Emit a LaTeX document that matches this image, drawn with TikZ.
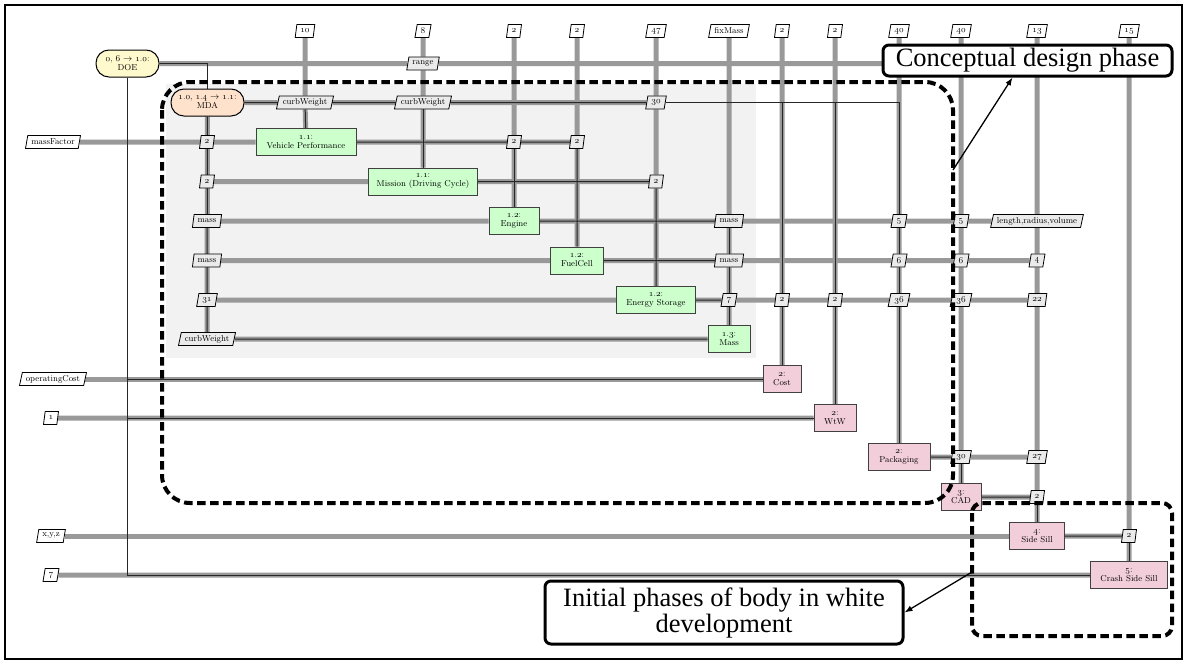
\documentclass[tikz,border=0pt]{standalone}
\usepackage{fontspec}
\usetikzlibrary{shapes.geometric,arrows.meta,calc}
\newfontfamily\annotfont{Liberation Serif}
% old-style figures taken from the math italic font
\newcommand\od[1]{{\fontencoding{OML}\fontfamily{lmm}\fontseries{m}\fontshape{it}\selectfont #1}}
\definecolor{dline}{gray}{0.6}
\definecolor{fgreen}{RGB}{204,255,204}
\definecolor{fpink}{RGB}{242,206,218}
\definecolor{fyellow}{RGB}{255,250,205}
\definecolor{fpeach}{RGB}{255,226,204}
\definecolor{dgray}{gray}{0.92}
\definecolor{panelgray}{gray}{0.95}
\pgfdeclarelayer{panel}
\pgfdeclarelayer{dlines}
\pgfdeclarelayer{plines}
\pgfsetlayers{panel,dlines,plines,main}
\tikzset{
  datalink/.style={draw=dline, line width=5pt},
  proclink/.style={draw=black!85, line width=1pt},
  xtext/.style={font=\fontsize{8.6}{9}\selectfont, align=center},
  funcbox/.style={xtext, rectangle, draw=black!75, line width=1pt, fill=fgreen,
    minimum height=27pt, inner xsep=3pt, inner ysep=2pt},
  anlbox/.style={funcbox, fill=fpink},
  drvbox/.style={xtext, rectangle, draw=black, line width=1pt, rounded corners=13pt,
    minimum height=27pt, inner xsep=3pt},
  databox/.style={xtext, trapezium, trapezium left angle=74, trapezium right angle=106,
    trapezium stretches=true, draw=black, line width=0.8pt, fill=dgray,
    minimum height=13pt, minimum width=13pt, inner xsep=3.5pt, inner ysep=1pt},
  inbox/.style={databox, fill=white},
  phase/.style={draw=black, line width=4pt, dash pattern=on 8.5pt off 4.5pt},
  callout/.style={draw=black, line width=3pt, rounded corners=6pt, fill=white,
    inner sep=0pt, font=\annotfont\fontsize{26.5}{26}\selectfont, align=center},
  pointer/.style={draw=black, line width=1.3pt, -{Latex[length=8pt,width=6pt]}},
}
\begin{document}
\begin{tikzpicture}[x=1pt,y=-1pt]
\useasboundingbox (0,0) rectangle (1188,664);
\draw[line width=2pt] (5,5) rectangle (1182,659);

% ---- components on the diagonal
\node[drvbox, fill=fyellow, minimum width=63pt] (DOE) at (127.5,63.5) {\od{0}, \od{6} $\rightarrow$ \od{1}.\od{0}:\\DOE};
\node[drvbox, fill=fpeach, minimum width=73pt] (MDA) at (207.5,102.5) {\od{1}.\od{0}, \od{1}.\od{4} $\rightarrow$ \od{1}.\od{1}:\\MDA};
\node[funcbox, minimum width=100pt] (VP) at (306,142) {\od{1}.\od{1}:\\Vehicle Performance};
\node[funcbox, minimum width=109pt] (Mission) at (423,181.5) {\od{1}.\od{1}:\\Mission (Driving Cycle)};
\node[funcbox, minimum width=50pt] (Engine) at (514,221) {\od{1}.\od{2}:\\Engine};
\node[funcbox, minimum width=53pt] (FuelCell) at (577,260.5) {\od{1}.\od{2}:\\FuelCell};
\node[funcbox, minimum width=79pt] (ES) at (656,300) {\od{1}.\od{2}:\\Energy Storage};
\node[funcbox, minimum width=42pt] (Mass) at (729,339) {\od{1}.\od{3}:\\Mass};
\node[anlbox, minimum width=38pt] (Cost) at (782,379) {\od{2}:\\Cost};
\node[anlbox, minimum width=42pt] (WtW) at (835,418) {\od{2}:\\WtW};
\node[anlbox, minimum width=62pt] (Pack) at (899,457) {\od{2}:\\Packaging};
\node[anlbox, minimum width=40pt] (CAD) at (961,497) {\od{3}:\\CAD};
\node[anlbox, minimum width=55pt] (SS) at (1037,536) {\od{4}:\\Side Sill};
\node[anlbox, minimum width=77pt] (Crash) at (1129,575) {\od{5}:\\Crash Side Sill};

% ---- external inputs
\node[inbox] (t10) at (305,31) {\od{10}};
\node[inbox] (t8) at (423,31) {\od{8}};
\node[inbox] (t2a) at (514,31) {\od{2}};
\node[inbox] (t2b) at (577,31) {\od{2}};
\node[inbox] (t47) at (656,31) {\od{47}};
\node[inbox] (tfix) at (729,31) {fixMass};
\node[inbox] (t2c) at (782,31) {\od{2}};
\node[inbox] (t2d) at (835,31) {\od{2}};
\node[inbox] (t40a) at (899,31) {\od{40}};
\node[inbox] (t40b) at (961,31) {\od{40}};
\node[inbox] (t13) at (1037,31) {\od{13}};
\node[inbox] (t15) at (1129,31) {\od{15}};
\node[inbox] (mf) at (53,142) {massFactor};
\node[inbox] (oc) at (53,379) {operatingCost};
\node[inbox] (in1) at (51,418) {\od{1}};
\node[inbox] (xyz) at (51,536) {x,y,z};
\node[inbox] (in7) at (51,575) {\od{7}};

% ---- coupling variables
\node[databox] (range) at (423,63.5) {range};
\node[databox] (cw1) at (305,102.5) {curbWeight};
\node[databox] (cw2) at (423,102.5) {curbWeight};
\node[databox] (d30) at (656,102.5) {\od{30}};
\node[databox] (v0) at (207,142) {\od{2}};
\node[databox] (v2a) at (514,142) {\od{2}};
\node[databox] (v2b) at (577,142) {\od{2}};
\node[databox] (mi0) at (207,181.5) {\od{2}};
\node[databox] (m2) at (656,181.5) {\od{2}};
\node[databox] (en0) at (207,221) {mass};
\node[databox] (em) at (729,221) {mass};
\node[databox] (e5a) at (899,221) {\od{5}};
\node[databox] (e5b) at (961,221) {\od{5}};
\node[databox] (lrv) at (1037,221) {length,radius,volume};
\node[databox] (fc0) at (207,260.5) {mass};
\node[databox] (fm) at (729,260.5) {mass};
\node[databox] (f6a) at (899,260.5) {\od{6}};
\node[databox] (f6b) at (961,260.5) {\od{6}};
\node[databox] (f4) at (1037,260.5) {\od{4}};
\node[databox] (es0) at (207,300) {\od{31}};
\node[databox] (e7) at (729,300) {\od{7}};
\node[databox] (e2a) at (782,300) {\od{2}};
\node[databox] (e2b) at (835,300) {\od{2}};
\node[databox] (e36a) at (899,300) {\od{36}};
\node[databox] (e36b) at (961,300) {\od{36}};
\node[databox] (e22) at (1037,300) {\od{22}};
\node[databox] (mcw) at (207,339) {curbWeight};
\node[databox] (p30) at (961,457) {\od{30}};
\node[databox] (p27) at (1037,457) {\od{27}};
\node[databox] (c2) at (1037,497) {\od{2}};
\node[databox] (s2) at (1129,536) {\od{2}};

% ---- MDA group background
\begin{pgfonlayer}{panel}
  \fill[panelgray] (166,84) rectangle (756,358);
\end{pgfonlayer}

% ---- data connections
\begin{pgfonlayer}{dlines}
  % rows
  \draw[datalink] (DOE) -- (range) -- (DOE -| t15);
  \draw[datalink] (MDA) -- (cw1) -- (cw2) -- (d30);
  \draw[datalink] (mf) -- (v0) -- (VP);
  \draw[datalink] (VP) -- (v2a) -- (v2b);
  \draw[datalink] (mi0) -- (Mission);
  \draw[datalink] (Mission) -- (m2);
  \draw[datalink] (en0) -- (Engine);
  \draw[datalink] (Engine) -- (em) -- (e5a) -- (e5b) -- (lrv);
  \draw[datalink] (fc0) -- (FuelCell);
  \draw[datalink] (FuelCell) -- (fm) -- (f6a) -- (f6b) -- (f4);
  \draw[datalink] (es0) -- (ES);
  \draw[datalink] (ES) -- (e7) -- (e2a) -- (e2b) -- (e36a) -- (e36b) -- (e22);
  \draw[datalink] (mcw) -- (Mass);
  \draw[datalink] (oc) -- (Cost);
  \draw[datalink] (in1) -- (WtW);
  \draw[datalink] (Pack) -- (p30) -- (p27);
  \draw[datalink] (CAD) -- (c2);
  \draw[datalink] (xyz) -- (SS);
  \draw[datalink] (SS) -- (s2);
  \draw[datalink] (in7) -- (Crash);
  % columns
  \draw[datalink] (MDA) -- (mcw);
  \draw[datalink] (t10) -- (cw1) -- (VP);
  \draw[datalink] (t8) -- (range) -- (cw2) -- (Mission);
  \draw[datalink] (t2a) -- (v2a) -- (Engine);
  \draw[datalink] (t2b) -- (v2b) -- (FuelCell);
  \draw[datalink] (t47) -- (d30) -- (m2) -- (ES);
  \draw[datalink] (tfix) -- (em) -- (fm) -- (e7) -- (Mass);
  \draw[datalink] (t2c) -- (e2a) -- (Cost);
  \draw[datalink] (t2d) -- (e2b) -- (WtW);
  \draw[datalink] (t40a) -- (e5a) -- (f6a) -- (e36a) -- (Pack);
  \draw[datalink] (t40b) -- (e5b) -- (f6b) -- (e36b) -- (p30) -- (CAD);
  \draw[datalink] (t13) -- (lrv) -- (f4) -- (e22) -- (p27) -- (c2) -- (SS);
  \draw[datalink] (t15) -- (s2) -- (Crash);
\end{pgfonlayer}

% ---- process flow
\begin{pgfonlayer}{plines}
  \draw[proclink] (DOE.east) -| (MDA.north);
  \draw[proclink] (DOE.south) |- (Crash.west);
  \draw[proclink] (DOE.south |- Cost.west) -- (Cost.west);
  \draw[proclink] (DOE.south |- WtW.west) -- (WtW.west);
  \draw[proclink] (MDA) -- (d30);
  \draw[proclink] (d30.east) -| (Pack.north);
  \draw[proclink] (Cost.north |- d30) -- (Cost.north);
  \draw[proclink] (WtW.north |- d30) -- (WtW.north);
  \draw[proclink] (MDA) -- (mcw);
  \draw[proclink] (cw1) -- (VP);
  \draw[proclink] (cw2) -- (Mission);
  \draw[proclink] (VP) -- (v2b);
  \draw[proclink] (v2a) -- (Engine);
  \draw[proclink] (v2b) -- (FuelCell);
  \draw[proclink] (Mission) -- (m2);
  \draw[proclink] (m2) -- (ES);
  \draw[proclink] (Engine) -- (em);
  \draw[proclink] (FuelCell) -- (fm);
  \draw[proclink] (ES) -- (e7);
  \draw[proclink] (em) -- (Mass);
  \draw[proclink] (Mass) -- (mcw);
  \draw[proclink] (Pack) -- (p30);
  \draw[proclink] (p30) -- (CAD);
  \draw[proclink] (CAD) -- (c2);
  \draw[proclink] (c2) -- (SS);
  \draw[proclink] (SS) -- (s2);
  \draw[proclink] (s2) -- (Crash);
\end{pgfonlayer}

% ---- phase outlines and callouts
\draw[phase, rounded corners=28pt] (162,82) rectangle (953,503);
\draw[phase, rounded corners=10pt] (972,503) rectangle (1172,636);
\node[callout, minimum width=289pt, minimum height=31pt] (cdp) at (1027.5,60.5) {Conceptual design phase};
\node[callout, minimum width=358pt, minimum height=63pt] (ipb) at (724,612.5) {Initial phases of body in white\\development};
\coordinate (cdpfoot) at (953,170);
\coordinate (ipbfoot) at (972,572);
\draw[pointer] (cdpfoot) -- ($(cdp.south)+(-15,0)$);
\draw[pointer] (ipbfoot) -- (ipb.east);
\end{tikzpicture}
\end{document}
